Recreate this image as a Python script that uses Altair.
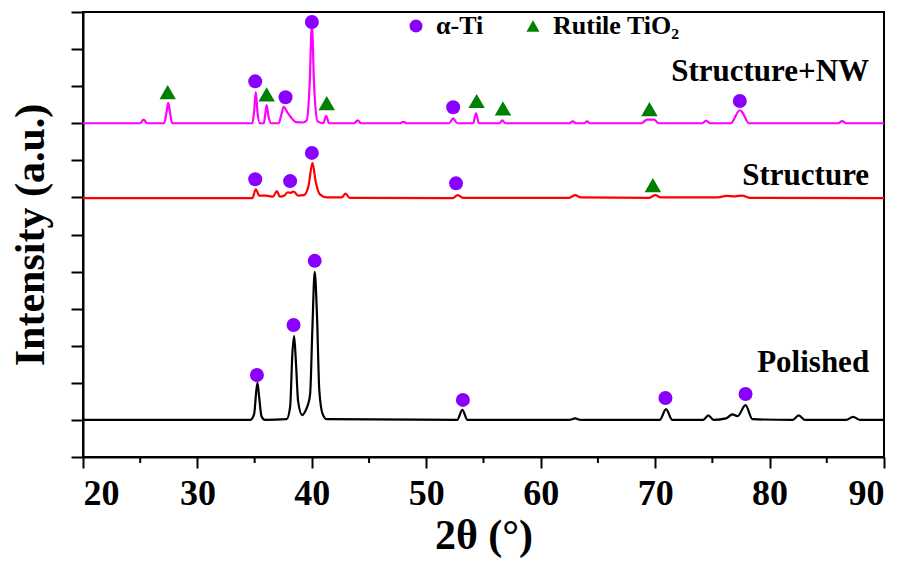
import altair as alt
import pandas as pd

# ---------------- data ----------------
# Polished (black)
polished_x = [20, 34.6, 34.95, 35.15, 35.25, 35.4, 35.6, 35.9, 37.8, 38.1, 38.3, 38.45, 38.6, 38.8,
              39.15, 39.45, 39.65, 39.85, 40.05, 40.25, 40.45, 40.65, 40.95, 41.3,
              52.7, 53.15, 53.6, 62.5, 63.0, 63.5, 70.4, 70.95, 71.5, 74.2, 74.65, 75.1,
              76.2, 76.75, 77.2, 77.9, 78.5, 82.0, 82.55, 83.1, 86.7, 87.3, 87.9, 90]
polished_y = [1.0, 1.0, 1.15, 1.8, 2.0, 1.6, 1.1, 1.0, 1.02, 1.35, 2.8, 3.26, 2.6, 1.5,
              1.13, 1.25, 1.4, 1.7, 3.5, 4.99, 3.8, 1.8, 1.15, 1.02,
              1.0, 1.27, 1.0, 1.0, 1.04, 1.0, 1.0, 1.29, 1.0, 1.0, 1.12, 1.0,
              1.04, 1.15, 1.1, 1.4, 1.02, 1.0, 1.12, 1.0, 1.0, 1.08, 1.0, 1.0]

# Structure (red)
structure_x = [20, 34.8, 35.1, 35.4, 36.0, 36.6, 36.95, 37.2, 37.6, 37.9, 38.1, 38.4, 38.8,
               39.3, 39.7, 40.05, 40.35, 40.7, 41.3, 42.6, 42.95, 43.3, 52.3, 52.75, 53.2,
               62.5, 63.0, 63.5, 69.5, 70.0, 70.5, 75.5, 76.2, 77.0, 77.6, 78.3, 90]
structure_y = [6.98, 6.98, 7.22, 7.05, 7.05, 7.02, 7.17, 7.02, 7.05, 7.14, 7.12, 7.16, 7.05,
               7.06, 7.3, 7.93, 7.4, 7.08, 7.0, 7.0, 7.1, 6.99, 6.98, 7.06, 6.99,
               6.99, 7.06, 7.0, 6.99, 7.06, 7.0, 7.0, 7.04, 7.03, 7.05, 6.99, 6.98]

# Structure+NW (magenta)
nw_x = [20, 25.0, 25.3, 25.6, 27.1, 27.3, 27.45, 27.6, 27.8, 34.8, 34.95, 35.1, 35.25, 35.45,
        35.8, 35.95, 36.05, 36.2, 36.45, 37.1, 37.35, 37.55, 37.85, 38.2, 38.6, 39.2, 39.55,
        39.8, 40.0, 40.2, 40.5, 41.0, 41.25, 41.5, 43.7, 44.0, 44.3, 47.7, 48.0, 48.3,
        52.0, 52.35, 52.7, 54.1, 54.35, 54.6, 56.4, 56.65, 56.9, 62.5, 62.8, 63.1,
        63.8, 64.05, 64.3, 68.8, 69.3, 69.9, 70.3, 74.1, 74.45, 74.8, 76.6, 77.4, 77.6,
        78.2, 86.0, 86.35, 86.7, 90]
nw_y = [9.0, 9.0, 9.1, 9.0, 9.0, 9.3, 9.55, 9.3, 9.0, 9.0, 9.3, 9.84, 9.3, 9.0,
        9.0, 9.3, 9.49, 9.2, 9.0, 9.0, 9.25, 9.44, 9.3, 9.15, 9.03, 9.02, 9.08,
        10.0, 11.65, 10.0, 9.05, 9.0, 9.2, 9.0, 9.0, 9.08, 9.0, 9.0, 9.04, 9.0,
        9.0, 9.13, 9.0, 9.0, 9.27, 9.0, 9.0, 9.08, 9.0, 9.0, 9.05, 9.0,
        9.0, 9.05, 9.0, 9.0, 9.1, 9.1, 9.0, 9.0, 9.07, 9.0, 9.0, 9.35, 9.3,
        9.0, 9.0, 9.06, 9.0, 9.0]

series_names = ["Polished", "Structure", "Structure+NW"]
series_colors = ["#000000", "#FF0000", "#FF00FF"]

# Phase markers
alpha_x = [35.2, 38.4, 40.25, 53.2, 70.9, 77.9,
           35.05, 38.1, 40.0, 52.6,
           35.05, 37.7, 40.0, 52.35, 77.4]
alpha_y = [2.21, 3.56, 5.29, 1.54, 1.59, 1.70,
           7.49, 7.44, 8.20, 7.38,
           10.13, 9.70, 11.73, 9.43, 9.60]
rutile_x = [69.8, 27.4, 36.05, 41.3, 54.4, 56.7, 69.5]
rutile_y = [7.33, 9.84, 9.78, 9.54, 9.60, 9.40, 9.38]
phase_names = ["α-Ti", "Rutile TiO₂"]
phase_colors = ["#8A00FF", "#008000"]
phase_shapes = ["circle", "triangle-up"]

# Curve labels
label_text = ["Structure+NW", "Structure", "Polished"]
label_x = [88.7, 88.7, 88.7]
label_y = [10.14, 7.34, 2.29]

x_ticks = [20, 30, 40, 50, 60, 70, 80, 90]
x_minor = [25, 35, 45, 55, 65, 75, 85]
y_ticks = list(range(0, 13))

# ---------------- tables ----------------
rows = []
for name, col, xs, ys in zip(series_names, series_colors,
                             [polished_x, structure_x, nw_x],
                             [polished_y, structure_y, nw_y]):
    for i, (a, b) in enumerate(zip(xs, ys)):
        rows.append({"series": name, "color": col, "order": i, "x": a, "y": b})
lines_df = pd.DataFrame(rows)

mrows = []
for a, b in zip(alpha_x, alpha_y):
    mrows.append({"phase": phase_names[0], "x": a, "y": b, "size": 196})
for a, b in zip(rutile_x, rutile_y):
    mrows.append({"phase": phase_names[1], "x": a, "y": b, "size": 270})
markers_df = pd.DataFrame(mrows)

labels_df = pd.DataFrame({"text": label_text, "x": label_x, "y": label_y})
minor_df = pd.DataFrame({"x": x_minor})

FONT = "Liberation Serif"
PLOT_W, PLOT_H = 801, 445
MINOR_LEN = 6

xscale = alt.Scale(domain=[20, 90], nice=False, zero=False)
yscale = alt.Scale(domain=[0, 12], nice=False, zero=False)

x_axis = alt.Axis(values=x_ticks, tickCount=40, title="2θ (°)", labelPadding=8,
                  titlePadding=4, format="d", orient="bottom", tickSize=11)
y_axis = alt.Axis(values=y_ticks, tickCount=40, labels=False, title="Intensity (a.u.)",
                  tickSize=12, titlePadding=18)

lines = alt.Chart(lines_df).mark_line(strokeWidth=2.2, interpolate="monotone").encode(
    x=alt.X("x:Q", scale=xscale, axis=x_axis),
    y=alt.Y("y:Q", scale=yscale, axis=y_axis),
    stroke=alt.Stroke("color:N", scale=None),
    detail="series:N",
    order="order:O",
)

# minor ticks of the x axis (below the bottom frame)
minor = alt.Chart(minor_df).mark_rule(color="black", strokeWidth=2, clip=False).encode(
    x=alt.X("x:Q", scale=xscale, axis=x_axis),
    y=alt.value(PLOT_H),
    y2=alt.value(PLOT_H + MINOR_LEN),
)

legend_spec = alt.Legend(title=None, orient="none", direction="horizontal",
                         legendX=320, legendY=1)

markers = alt.Chart(markers_df).mark_point(filled=True, opacity=1, strokeWidth=0).encode(
    x="x:Q",
    y="y:Q",
    color=alt.Color("phase:N", scale=alt.Scale(domain=phase_names, range=phase_colors),
                    legend=legend_spec),
    shape=alt.Shape("phase:N", scale=alt.Scale(domain=phase_names, range=phase_shapes),
                    legend=legend_spec),
    size=alt.Size("size:Q", scale=None),
)

labels = alt.Chart(labels_df).mark_text(align="right", baseline="alphabetic", font=FONT,
                                        fontWeight="bold", fontSize=31, color="black").encode(
    x="x:Q", y="y:Q", text="text:N"
)

chart = alt.layer(lines, minor, markers, labels).properties(
    width=PLOT_W, height=PLOT_H,
    autosize=alt.AutoSizeParams(type="none"),
    padding={"left": 83, "top": 12, "right": 22, "bottom": 105},
).configure_view(stroke="black", strokeWidth=2).configure_axis(
    grid=False, domainColor="black", domainWidth=2, tickColor="black", tickWidth=2,
    labelFont=FONT, labelFontSize=36, labelFontWeight="bold", labelColor="black",
    titleFont=FONT, titleFontSize=42, titleFontWeight="bold", titleColor="black",
).configure_legend(
    labelFont=FONT, labelFontSize=26, labelFontWeight="bold", labelColor="black",
    symbolSize=170, symbolStrokeWidth=0, labelOffset=7, columnPadding=36, padding=0,
)

chart.save("out.html", embed_options={"renderer": "svg", "actions": False})
